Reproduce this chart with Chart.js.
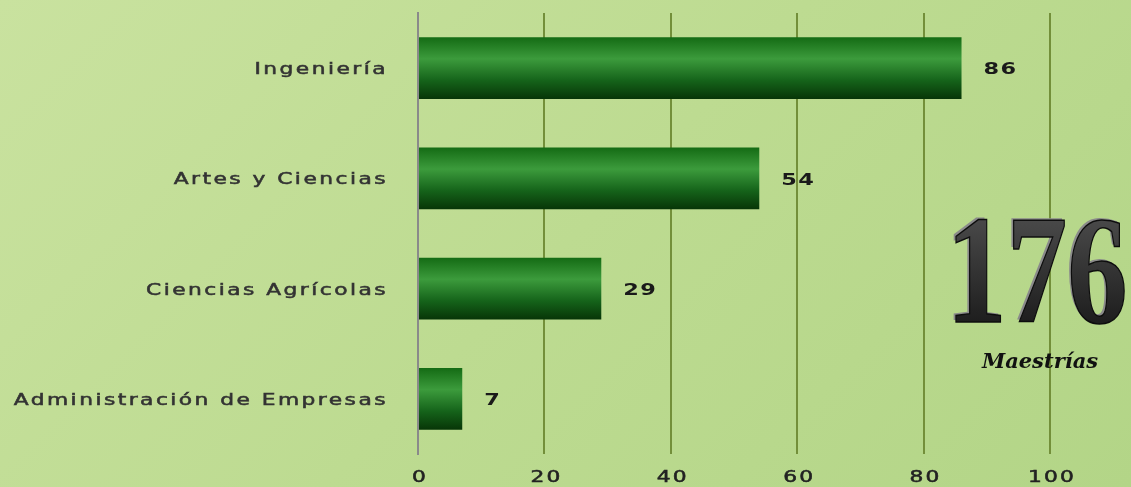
<!DOCTYPE html>
<html>
<head>
<meta charset="utf-8">
<script src="https://cdn.jsdelivr.net/npm/chart.js@4.4.1/dist/chart.umd.min.js"></script>
<style>
  html, body { margin: 0; padding: 0; }
  body {
    width: 1131px; height: 487px; overflow: hidden;
    background: linear-gradient(135deg, #c9e29f 0%, #bddb91 50%, #b3d587 100%);
  }
  #wrap { width: 1131px; height: 487px; position: relative; }
</style>
</head>
<body>
<div id="wrap"><canvas id="chart"></canvas></div>
<script>
const categories = ['Ingeniería', 'Artes y Ciencias', 'Ciencias Agrícolas', 'Administración de Empresas'];
const values = [86, 54, 29, 7];
const xTicks = [0, 20, 40, 60, 80, 100];
const totalText = '176';
const totalLabel = 'Maestrías';

// the original text is stretched sideways, so text is drawn with a horizontal scale
function wideText(ctx, text, x, y, opts) {
    ctx.save();
    ctx.font = opts.font;
    ctx.fillStyle = opts.color;
    ctx.letterSpacing = opts.spacing;
    ctx.textAlign = opts.align;
    ctx.textBaseline = 'middle';
    ctx.translate(x, y);
    ctx.scale(opts.stretch, 1);
    ctx.fillText(text, 0, 0);
    if (opts.stroke) {
        ctx.strokeStyle = opts.color;
        ctx.lineWidth = opts.stroke;
        ctx.strokeText(text, 0, 0);
    }
    ctx.restore();
}

// bar gradient, computed per bar from the y scale
function barGradient(context) {
    const chart = context.chart;
    const y = chart.scales.y;
    if (!y || !chart.chartArea) return '#1f7a1f';
    const center = y.getPixelForValue(context.dataIndex);
    const half = 31;
    const g = chart.ctx.createLinearGradient(0, center - half, 0, center + half);
    g.addColorStop(0, '#146b14');
    g.addColorStop(0.35, '#3c9b3c');
    g.addColorStop(0.7, '#15631a');
    g.addColorStop(1, '#073507');
    return g;
}

const totalPlugin = {
    id: 'total',
    beforeDatasetsDraw(chart) {
        const ctx = chart.ctx;
        ctx.save();
        ctx.translate(1037, 322);
        ctx.scale(0.78, 1);
        ctx.textAlign = 'center';
        ctx.textBaseline = 'alphabetic';
        ctx.font = 'bold 155px "Liberation Serif"';
        ctx.fillStyle = '#8a8a8a';
        ctx.fillText(totalText, -3, -2);
        const g = ctx.createLinearGradient(0, -105, 0, 0);
        g.addColorStop(0, '#4a4a4a');
        g.addColorStop(1, '#1e1e1e');
        ctx.fillStyle = g;
        ctx.fillText(totalText, 0, 0);
        ctx.strokeStyle = '#0d0d0d';
        ctx.lineWidth = 1.5;
        ctx.strokeText(totalText, 0, 0);
        ctx.restore();

        ctx.save();
        ctx.textAlign = 'center';
        ctx.textBaseline = 'alphabetic';
        ctx.font = 'italic bold 21px "DejaVu Serif"';
        ctx.fillStyle = '#111';
        ctx.fillText(totalLabel, 1040, 368);
        ctx.restore();
    }
};

const labelPlugin = {
    id: 'labels',
    afterDatasetsDraw(chart) {
        const ctx = chart.ctx;
        const xs = chart.scales.x;
        const ys = chart.scales.y;
        // category labels
        categories.forEach((c, i) => {
            wideText(ctx, c, 388, ys.getPixelForValue(i) + 2, {
                font: '15px "DejaVu Sans"', color: '#333', spacing: '1.7px', align: 'right', stretch: 1.45, stroke: 0.5
            });
        });
        // x tick labels
        xTicks.forEach(v => {
            wideText(ctx, String(v), xs.getPixelForValue(v) + 2, 478, {
                font: '15px "DejaVu Sans"', color: '#222', spacing: '1.5px', align: 'center', stretch: 1.45, stroke: 0.5
            });
        });
        // value labels
        const meta = chart.getDatasetMeta(0);
        meta.data.forEach((bar, i) => {
            wideText(ctx, String(values[i]), bar.x + 22, bar.y + 2, {
                font: 'bold 16px "DejaVu Sans"', color: '#1a1a1a', spacing: '1px', align: 'left', stretch: 1.4
            });
        });
    }
};

new Chart(document.getElementById('chart'), {
    type: 'bar',
    data: {
        labels: categories,
        datasets: [{
            data: values,
            backgroundColor: barGradient,
            borderWidth: 0,
            categoryPercentage: 1,
            barPercentage: 0.56
        }]
    },
    options: {
        indexAxis: 'y',
        responsive: true,
        maintainAspectRatio: false,
        animation: false,
        layout: { padding: { top: 13, right: 81, left: 0, bottom: 0 } },
        plugins: {
            legend: { display: false },
            tooltip: { enabled: false }
        },
        scales: {
            x: {
                min: 0,
                max: 100,
                afterBuildTicks(scale) {
                    scale.ticks = xTicks.map(v => ({ value: v }));
                },
                grid: {
                    color: ctx => ctx.index === 0 ? 'rgba(0,0,0,0)' : '#738f3a',
                    lineWidth: 2,
                    drawTicks: false
                },
                border: { display: false },
                ticks: { display: false },
                afterFit(scale) {
                    scale.height = 33;
                    scale.paddingLeft = 0;
                    scale.paddingRight = 0;
                }
            },
            y: {
                grid: { display: false },
                border: { display: true, color: '#8a8a8a', width: 2 },
                ticks: { display: false },
                afterFit(scale) {
                    scale.width = 418;
                    scale.paddingTop = 0;
                    scale.paddingBottom = 0;
                }
            }
        }
    },
    plugins: [totalPlugin, labelPlugin]
});
</script>
</body>
</html>
